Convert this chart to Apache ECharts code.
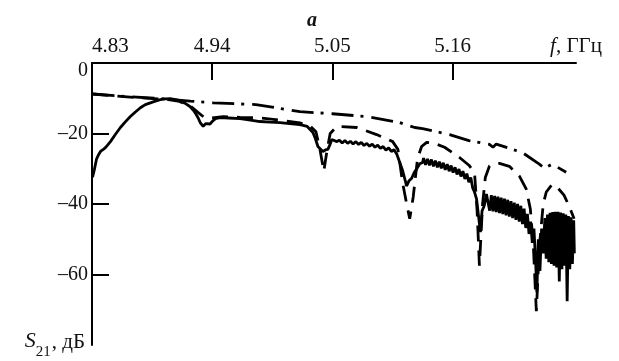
<!DOCTYPE html>
<html>
<head>
<meta charset="utf-8">
<script src="https://cdn.jsdelivr.net/npm/echarts@6/dist/echarts.min.js"></script>
<style>
html,body{margin:0;padding:0;background:#fff;}
#c{width:619px;height:361px;}
</style>
</head>
<body>
<div id="c"></div>
<script>
// Frequency tick labels (GHz) and S21 tick labels (dB)
const xTickLabels = [4.83, 4.94, 5.05, 5.16];
const yTickLabels = [0, -20, -40, -60];

// Solid curve (measured), [f GHz, S21 dB]
const solidF = [4.8305,4.832,4.8341,4.836,4.8378,4.84,4.8423,4.8469,4.8515,4.856,4.8605,4.8651,4.8697,4.8743,4.8788,4.8834,4.888,4.8925,4.897,4.9016,4.9062,4.9108,4.915,4.9199,4.923,4.9254,4.9275,4.929,4.9318,4.934,4.9354,4.938,4.94,4.943,4.9473,4.955,4.9656,4.975,4.9838,4.993,5.0021,5.011,5.0203,5.027,5.0322,5.0345,5.0368,5.0413,5.044,5.0459,5.048,5.0495,5.0541,
  5.0565,5.059,5.0615,5.064,5.0665,5.069,5.0715,5.074,5.0765,5.079,5.0815,5.084,5.0865,5.089,5.0915,5.094,5.0965,5.099,5.1015,5.104,5.1065,5.109,
  5.1143,5.118,5.12,5.1226,5.125,5.1271,5.13,5.1326,
  5.1335,5.1353,5.1371,5.1389,5.1407,5.1425,5.1443,5.1461,5.1479,5.1497,5.1515,5.1533,5.1551,5.1569,5.1587,5.1605,5.1623,5.1641,5.1659,5.1677,5.1695,5.1713,5.1731,5.1749,5.1767,5.1785,
  5.18,5.182,5.1855,5.187,5.189,5.191,
  5.1925,5.194,5.1955,5.197,5.1985,5.2,5.2015,5.203,5.2045,5.206,5.2075,5.209,5.2105,5.212,5.2135,5.215,5.2165,5.218,5.2195,5.221,5.2225,5.224,5.2255,5.227,5.2285,5.23,5.2315,5.233,5.2345,5.236,5.2372,5.2385,5.24,5.2415,5.243,
  5.2445,5.2457,5.2469,5.2481,5.2493,5.2505,5.2517,5.2529,5.2541,5.2553,5.2565,5.2577,5.2589,5.2601,5.2613,5.2625,5.2637,5.2649,5.2661,5.2673,5.2685,5.2697,5.2709,5.2715];
const solidDb = [-32.4,-30.5,-27.3,-26.0,-25.1,-24.6,-24.0,-22.3,-20.2,-18.3,-16.7,-15.2,-13.9,-12.7,-11.8,-11.3,-10.8,-10.4,-10.2,-10.1,-10.4,-10.7,-11.4,-12.4,-13.5,-14.6,-15.8,-16.9,-18.0,-17.2,-16.9,-17.3,-16.6,-15.8,-15.5,-15.6,-15.8,-16.2,-16.6,-16.8,-16.9,-17.2,-17.5,-18.0,-19.7,-21.5,-23.7,-25.1,-24.6,-24.5,-23.0,-21.7,-22.3,
  -21.9,-22.7,-22.0,-22.8,-22.2,-23.0,-22.3,-23.1,-22.5,-23.4,-22.8,-23.6,-23.0,-23.9,-23.3,-24.2,-23.7,-24.7,-24.1,-25.1,-24.6,-25.9,
  -30.5,-34.9,-33.5,-32.7,-31.0,-30.1,-28.6,-28.2,
  -27.0,-28.9,-27.2,-29.0,-27.4,-29.3,-27.7,-29.6,-28.0,-29.9,-28.3,-30.3,-28.7,-30.7,-29.1,-31.1,-29.6,-31.6,-30.1,-32.2,-30.7,-32.9,-31.4,-33.8,-32.5,-35.5,
  -36.5,-38.6,-48.0,-42.0,-40.5,-37.2,
  -37.3,-41.9,-37.5,-42.1,-37.7,-42.3,-37.9,-42.6,-38.2,-42.9,-38.5,-43.2,-38.8,-43.6,-39.2,-44.0,-39.6,-44.5,-40.0,-45.0,-40.5,-45.7,-41.3,-46.8,-42.8,-48.5,-45.0,-51.0,-47.0,-56.0,-65.0,-50.0,-59.0,-47.0,-54.0,
  -44.0,-55.5,-43.0,-56.5,-42.5,-57.0,-42.3,-57.5,-42.2,-58.0,-42.2,-62.0,-42.4,-58.5,-42.6,-57.5,-43.0,-67.6,-43.4,-58.5,-43.8,-57.0,-44.6,-54.0];

// Dashed curve
const dashF = [4.8305,4.85,4.87,4.89,4.9,4.91,4.92,4.927,4.933,4.94,4.95,4.9656,4.9838,5.0021,5.0203,5.03,5.035,5.0386,5.0422,5.045,5.048,5.0541,5.0723,5.0905,5.1052,5.11,5.1143,5.118,5.1208,5.124,5.128,5.1317,5.1363,5.1435,5.1527,5.1664,5.175,5.1801,5.1825,5.1846,5.1875,5.19,5.1938,5.2029,5.212,5.2212,5.2275,5.2312,5.234,5.2367,5.2395,5.243,5.2458,5.251,5.2549,5.262,5.2667,5.2713];
const dashDb = [-8.8,-9.3,-9.8,-10.2,-10.4,-10.9,-12.2,-14.0,-15.5,-15.6,-15.2,-15.4,-15.6,-16.2,-17.0,-18.0,-19.5,-24.5,-30.7,-25.0,-20.0,-18.0,-18.3,-20.3,-22.3,-24.5,-34.0,-40.0,-44.2,-38.0,-27.0,-23.7,-22.5,-22.8,-23.9,-26.8,-29.0,-31.0,-42.0,-57.5,-40.0,-32.5,-29.2,-28.5,-29.3,-32.1,-35.8,-41.4,-52.0,-70.4,-52.0,-40.0,-36.6,-34.5,-34.9,-37.5,-40.6,-44.2];

// Dash-dot curve
const dotF = [4.8305,4.86,4.8925,4.92,4.941,4.98,5.0203,5.05,5.0815,5.1116,5.1253,5.1326,5.1573,5.175,5.1938,5.197,5.2,5.2239,5.2394,5.244,5.2513,5.264];
const dotDb = [-8.8,-9.5,-10.1,-10.8,-11.3,-11.8,-13.8,-14.4,-15.2,-16.9,-18.3,-18.6,-20.3,-22.0,-23.1,-23.9,-23.0,-25.4,-28.7,-29.8,-28.7,-31.0];

const zip = (a, b) => a.map((v, i) => [v, b[i]]);
const FONT = 'Liberation Serif';

const chart = echarts.init(document.getElementById('c'), null, {renderer: 'canvas'});
chart.setOption({
  animation: false,
  backgroundColor: '#fff',
  title: [{
    text: 'a', left: 302, top: 6,
    textStyle: {fontFamily: FONT, fontSize: 20, fontStyle: 'italic', fontWeight: 'bold', color: '#111'}
  }],
  grid: {left: 92, right: 43, top: 63, bottom: 16, containLabel: false},
  xAxis: {
    type: 'value', position: 'top', min: 4.83, max: 5.273,
    name: '{i|f}, ГГц', nameLocation: 'end', nameGap: 0,
    nameTextStyle: {
      fontFamily: FONT, fontSize: 21, color: '#111', align: 'center', verticalAlign: 'bottom',
      padding: [0, 0, 6, 0],
      rich: {i: {fontFamily: FONT, fontSize: 21, fontStyle: 'italic', color: '#111'}}
    },
    axisLine: {show: true, onZero: false, lineStyle: {color: '#000', width: 2}},
    axisTick: {show: true, inside: true, length: 17, lineStyle: {color: '#000', width: 2},
      customValues: xTickLabels.slice(1)},
    axisLabel: {show: true, margin: 6, fontFamily: FONT, fontSize: 21, color: '#111',
      customValues: xTickLabels, alignMinLabel: 'left',
      formatter: v => v.toFixed(2)},
    splitLine: {show: false}
  },
  yAxis: {
    type: 'value', min: -80, max: 0,
    name: '{i|S}{s|21}{t|, дБ}', nameLocation: 'start', nameGap: 0,
    nameTextStyle: {
      fontFamily: FONT, fontSize: 21, color: '#111', align: 'right', verticalAlign: 'middle',
      padding: [0, 7, 0, 0],
      rich: {
        i: {fontFamily: FONT, fontSize: 22, fontStyle: 'italic', color: '#111', verticalAlign: 'top', padding: [0, 0, 0, 0]},
        s: {fontFamily: FONT, fontSize: 15, color: '#111', verticalAlign: 'bottom', padding: [14, 1, 0, 0]},
        t: {fontFamily: FONT, fontSize: 21, color: '#111', verticalAlign: 'top', padding: [1, 0, 0, 0]}
      }
    },
    axisLine: {show: true, onZero: false, lineStyle: {color: '#000', width: 2}},
    axisTick: {show: true, inside: true, length: 17, lineStyle: {color: '#000', width: 2},
      customValues: yTickLabels.slice(1)},
    axisLabel: {show: true, margin: 4, fontFamily: FONT, fontSize: 20, color: '#111',
      customValues: yTickLabels,
      formatter: v => v < 0 ? '–' + Math.abs(v) : '{z|' + v + '}',
      rich: {z: {fontFamily: FONT, fontSize: 20, color: '#111', padding: [16, 0, 0, 0]}}},
    splitLine: {show: false}
  },
  series: [
    {type: 'line', data: zip(dotF, dotDb), showSymbol: false, z: 2,
      lineStyle: {color: '#000', width: 2.8, type: [22, 7, 3, 8]}},
    {type: 'line', data: zip(dashF, dashDb), showSymbol: false, z: 3,
      lineStyle: {color: '#000', width: 2.8, type: [16, 9]}},
    {type: 'line', data: zip(solidF, solidDb), showSymbol: false, z: 4,
      lineStyle: {color: '#000', width: 2.8, type: 'solid'}}
  ]
});
</script>
</body>
</html>
